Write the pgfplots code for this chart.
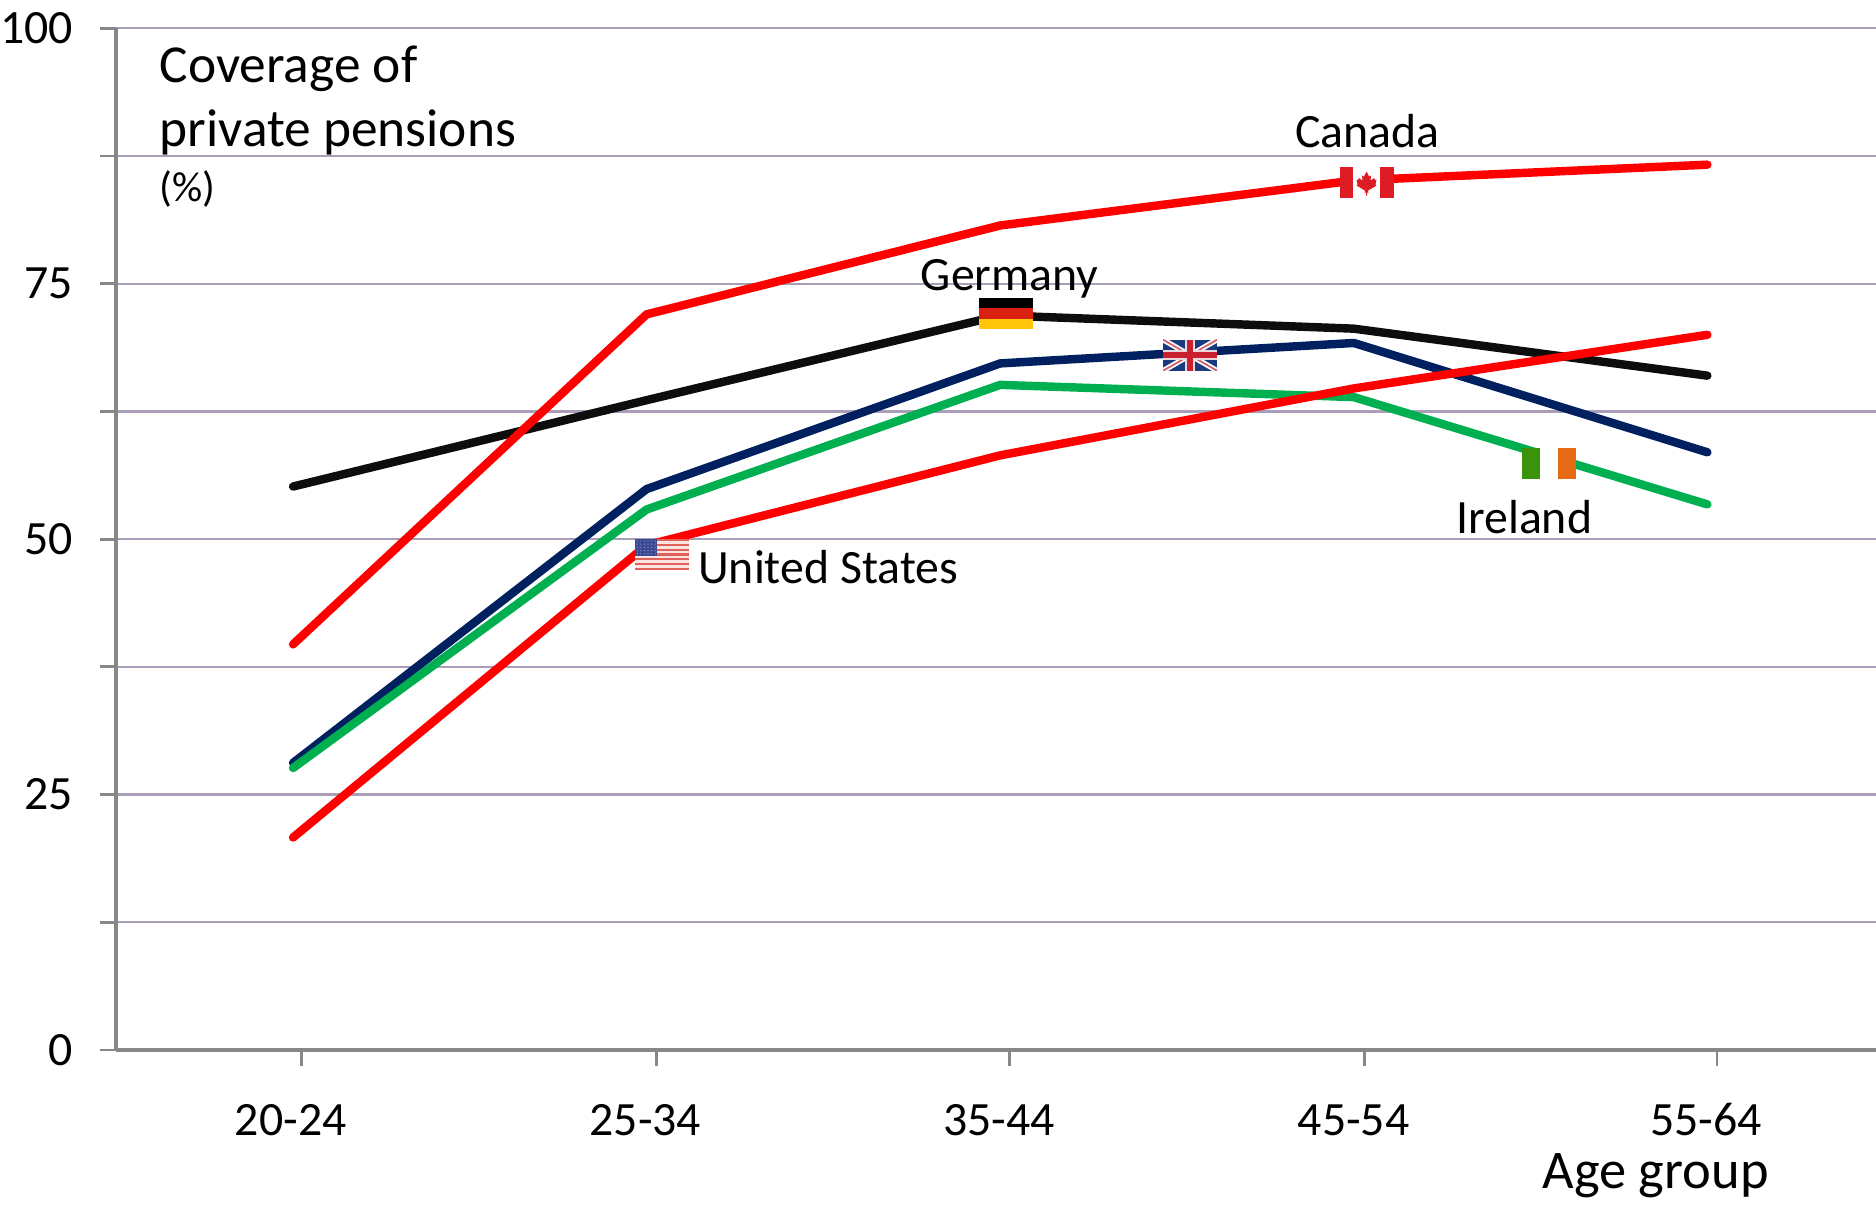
\documentclass[border=0pt]{standalone}
\usepackage{pgfplots}
\pgfplotsset{compat=1.18}
\usepackage{fontspec}
\setmainfont{Carlito}
\definecolor{gridpurple}{HTML}{A99DB8}
\definecolor{axisgrey}{HTML}{878787}
\definecolor{lineblack}{HTML}{0D0D0D}
\definecolor{linenavy}{HTML}{002060}
\definecolor{linegreen}{HTML}{00B050}
\definecolor{flagred}{HTML}{DD1C24}
\newcommand{\lab}{\fontsize{13.6}{16}\selectfont}
\newcommand{\labbig}{\fontsize{15.2}{18}\selectfont}

% Small national flags, 0.54 cm by 0.31 cm, centred on the pic origin
\tikzset{
 flagcanada/.pic={
  \fill[white] (-.27,-.155) rectangle (.27,.155);
  \fill[flagred] (-.27,-.155) rectangle (-.135,.155);
  \fill[flagred] (.135,-.155) rectangle (.27,.155);
  \fill[flagred] (0,.11) -- (.025,.06) -- (.045,.07) -- (.04,.02) -- (.075,.045) -- (.085,.025) -- (.1,.03)
    -- (.09,-.02) -- (.1,-.03) -- (.015,-.08) -- (.02,-.1) -- (.005,-.1) -- (.005,-.13) -- (-.005,-.13)
    -- (-.005,-.1) -- (-.02,-.1) -- (-.015,-.08) -- (-.1,-.03) -- (-.09,-.02) -- (-.1,.03) -- (-.085,.025)
    -- (-.075,.045) -- (-.04,.02) -- (-.045,.07) -- (-.025,.06) -- cycle;
 },
 flaggermany/.pic={
  \fill[black] (-.27,.052) rectangle (.27,.155);
  \fill[HTML=DA2010] (-.27,-.052) rectangle (.27,.052);
  \fill[HTML=FFC60B] (-.27,-.155) rectangle (.27,-.052);
 },
 flagireland/.pic={
  \fill[HTML=3A930A] (-.27,-.155) rectangle (-.09,.155);
  \fill[HTML=FCFFFA] (-.09,-.155) rectangle (.09,.155);
  \fill[HTML=E66A14] (.09,-.155) rectangle (.27,.155);
 },
 flagunion/.pic={
  \fill[HTML=1A3A80] (-.27,-.155) rectangle (.27,.155);
  \begin{scope}
   \clip (-.27,-.155) rectangle (.27,.155);
   \draw[white,line width=1.5pt] (-.27,-.155) -- (.27,.155) (-.27,.155) -- (.27,-.155);
   \draw[HTML=D0636B,line width=.5pt] (-.27,-.155) -- (.27,.155) (-.27,.155) -- (.27,-.155);
  \end{scope}
  \fill[HTML=E8D8DA] (-.27,-.05) rectangle (.27,.05);
  \fill[HTML=E8D8DA] (-.05,-.155) rectangle (.05,.155);
  \fill[HTML=C8202E] (-.27,-.028) rectangle (.27,.028);
  \fill[HTML=C8202E] (-.028,-.155) rectangle (.028,.155);
 },
 flagus/.pic={
  \fill[HTML=FBE4E2] (-.27,-.155) rectangle (.27,.155);
  \foreach \s in {0,2,...,12}{
   \fill[HTML=E2605A] (-.27,{.155-\s*.02385}) rectangle (.27,{.155-(\s+1)*.02385});
  }
  \fill[HTML=3C4A96] (-.27,-.012) rectangle (-.05,.155);
  \foreach \i in {0,...,5}{\foreach \j in {0,...,4}{
   \fill[HTML=8D96C4] ({-.25+\i*.036},{.135-\j*.032}) circle (.006);
  }}
 },
 HTML/.code={\definecolor{tmpflag}{HTML}{#1}\pgfkeysalso{color=tmpflag}},
}

\begin{document}
\begin{tikzpicture}
% Page extent
\path[use as bounding box] (-1.16,-1.57) rectangle (17.6,10.50);
\begin{axis}[
  name=main,
  at={(0,0)}, anchor=south west,
  scale only axis,
  width=17.6cm, height=10.217cm,
  xmin=-0.5008, xmax=4.477,
  ymin=0, ymax=100,
  axis x line*=bottom, axis y line*=left,
  axis line style={axisgrey,line width=1pt,-},
  tick style={axisgrey,line width=0.8pt},
  tick align=outside,
  major tick length=0.16cm,
  xtick={0.024,1.027,2.027,3.03,4.027},
  xticklabels={20-24,25-34,35-44,45-54,55-64},
  ytick={0,12.5,25,37.5,50,62.5,75,87.5,100},
  yticklabels={0,,25,,50,,75,,100},
  ymajorgrids,
  grid style={gridpurple,line width=0.65pt},
  clip=false,
  x tick label style={font=\lab,text=black,anchor=base,yshift=-0.70cm,xshift=-0.108cm,inner sep=0pt},
  y tick label style={font=\lab,text=black,anchor=east,xshift=-0.23cm,inner sep=1pt},
  every axis plot/.append style={line width=2.4pt,mark=none,line cap=round,line join=round},
]
\addplot[lineblack] coordinates {(0,55.15) (1,63.6) (2,71.9) (3,70.6) (4,66.0)};
\addplot[linenavy] coordinates {(0,28.1) (1,54.9) (2,67.2) (3,69.2) (4,58.5)};
\addplot[linegreen] coordinates {(0,27.6) (1,52.9) (2,65.1) (3,63.9) (4,53.4)};
\addplot[red] coordinates {(0,39.7) (1,72.0) (2,80.7) (3,85.1) (4,86.65)};
\addplot[red] coordinates {(0,20.8) (1,49.4) (2,58.2) (3,64.75) (4,70.0)};

\node[font=\labbig,anchor=base west,inner sep=0pt] at (axis cs:-0.379,94.73) {Coverage of};
\node[font=\labbig,anchor=base west,inner sep=0pt] at (axis cs:-0.379,88.4) {private pensions};
\node[font=\fontsize{12}{14}\selectfont,anchor=base west,inner sep=0pt] at (axis cs:-0.379,83.0) {(\%)};
\node[font=\lab,anchor=base,inner sep=0pt] at (axis cs:3.039,88.3) {Canada};
\node[font=\lab,anchor=base,inner sep=0pt] at (axis cs:2.027,74.36) {Germany};
\node[font=\lab,anchor=base west,inner sep=0pt] at (axis cs:1.144,45.67) {United States};
\node[font=\lab,anchor=base,inner sep=0pt] at (axis cs:3.482,50.59) {Ireland};
\node[font=\fontsize{15.5}{18}\selectfont,anchor=base,inner sep=0pt] at (axis cs:3.854,-13.58) {Age group};

\coordinate (ca) at (axis cs:3.036,84.9);
\coordinate (de) at (axis cs:2.017,72.07);
\coordinate (uk) at (axis cs:2.537,68.0);
\coordinate (us) at (axis cs:1.044,48.5);
\coordinate (ie) at (axis cs:3.552,57.4);
\end{axis}
\path (ca) pic {flagcanada};
\path (de) pic {flaggermany};
\path (uk) pic {flagunion};
\path (us) pic {flagus};
\path (ie) pic {flagireland};
\end{tikzpicture}
\end{document}
